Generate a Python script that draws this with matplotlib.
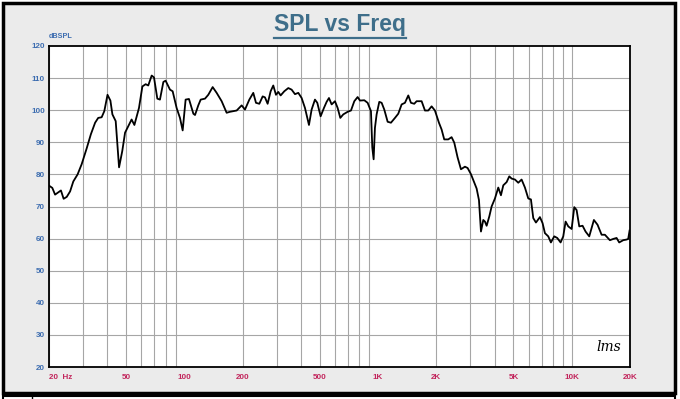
import matplotlib
matplotlib.use("Agg")
import matplotlib.pyplot as plt
from matplotlib import font_manager
from matplotlib.patches import Rectangle
from matplotlib.lines import Line2D
from matplotlib.ticker import FixedLocator, NullFormatter

plt.rcParams['font.family'] = ['Liberation Sans', 'DejaVu Sans']

# frequency response (Hz, dB SPL)
freq = [20, 20.8, 21.5, 22.3, 23.05, 23.8, 24.7, 25.7, 26.7, 28.1, 29.5, 31.3,
        32.9, 34.6, 35.9, 37.4, 38.6, 40.1, 41.5, 42.5, 44.2, 46.0, 47.8, 49.4,
        51.3, 53.4, 55.2, 58.3, 60.7, 63.1, 65.1, 67.8, 69.7, 72.5, 74.8, 77.9,
        80.0, 84.3, 87.0, 91.2, 94.9, 98.0, 101.5, 105.6, 111.3, 113.5, 118.0,
        121.4, 127.8, 132.9, 140.0, 146.8, 155.8, 165.3, 171.9, 186.2, 197.6,
        205.6, 216.5, 226.9, 234.3, 243.8, 253.7, 260.7, 269.1, 278.9, 287.8,
        297.1, 305.5, 314.1, 328.1, 344.1, 358, 372.5, 387.5, 403.2, 419.5,
        439.9, 454, 472.4, 485.7, 505.3, 525.7, 542.7, 558, 576, 599.3, 618.6,
        638.5, 661.7, 696.7, 724.9, 754.2, 784.6, 806.7, 849.3, 883.6, 919.3,
        934, 949, 963.9, 983.4, 1015, 1044, 1077, 1121, 1166, 1223, 1272, 1324,
        1377, 1433, 1479, 1538, 1582, 1679, 1747, 1817, 1891, 1967, 2063, 2129,
        2197, 2304, 2398, 2475, 2575, 2680, 2810, 2900, 3017, 3103, 3229, 3320,
        3359, 3400, 3495, 3565, 3637, 3754, 3859, 4015, 4177, 4312, 4434, 4613,
        4761, 4895, 5093, 5298, 5512, 5735, 5967, 6159, 6332, 6537, 6853, 7074,
        7273, 7567, 7810, 8126, 8421, 8763, 9045, 9300, 9600, 9990, 10310,
        10600, 10940, 11380, 11790, 12320, 13020, 13600, 14270, 14840, 15750,
        16390, 17050, 17590, 18450, 19200, 19580, 19900]
spl = [76.5, 75.8, 73.7, 74.4, 75.0, 72.4, 73.0, 74.7, 77.8, 80.0, 83.2, 88.1,
       92.5, 96.1, 97.6, 97.8, 99.7, 104.8, 103.0, 98.7, 96.6, 82.2, 87.3, 93.0,
       95.0, 97.1, 95.4, 100.7, 107.4, 108.1, 107.7, 110.8, 110.2, 103.6, 103.3,
       108.8, 109.2, 106.4, 105.9, 100.7, 97.6, 93.7, 103.3, 103.5, 98.9, 98.5,
       101.5, 103.3, 103.6, 104.8, 107.2, 105.4, 102.8, 99.2, 99.5, 99.9, 101.5,
       100.2, 103.3, 105.4, 102.3, 102.0, 104.3, 104.0, 102.0, 105.9, 107.7,
       104.8, 105.7, 104.6, 105.9, 106.9, 106.4, 105.0, 105.4, 103.8, 100.7,
       95.4, 100.2, 103.3, 102.3, 98.1, 100.7, 102.6, 103.8, 101.8, 102.8, 100.7,
       97.6, 98.7, 99.5, 99.9, 102.8, 104.1, 103.0, 103.1, 102.3, 99.7,
       88.4, 84.7, 94.5, 98.7, 102.6, 102.3, 100.2, 96.4, 96.1, 97.6, 98.9, 101.8,
       102.3, 104.6, 102.3, 102.0, 102.8, 102.8, 99.9, 99.9, 101.2, 99.9, 96.1, 94.0,
       90.9, 90.9, 91.6, 89.9, 85.3, 81.6, 82.4, 82.0, 80.1, 78.2, 75.6, 72.0,
       67.4, 62.2, 65.8, 65.3, 64.0, 66.9, 70.0, 72.5, 75.9, 73.5, 76.6, 77.6,
       79.4, 78.7, 78.4, 77.4, 78.4, 75.9, 72.5, 72.2, 66.4, 65.0, 66.7, 64.8,
       61.7, 60.7, 58.8, 60.7, 60.2, 58.8, 60.7, 65.3, 63.8, 63.0, 69.8,
       68.9, 63.8, 64.0, 62.2, 60.7, 65.8, 64.3, 61.2, 61.2, 59.5,
       59.9, 60.2, 58.8, 59.5, 59.7, 59.9, 62.5]

xtick_pos = [20, 50, 100, 200, 500, 1000, 2000, 5000, 10000, 20000]
xtick_lab = ['20  Hz', '50', '100', '200', '500', '1K', '2K', '5K', '10K', '20K']
ytick_pos = [20, 30, 40, 50, 60, 70, 80, 90, 100, 110, 120]
grid_x = [m * d for d in (10, 100, 1000) for m in range(2, 10)] + [10000]

# a narrow face looks closer to the original, if it is there
installed = {f.name for f in font_manager.fontManager.ttflist}
if 'Liberation Sans Narrow' in installed:
    narrow, title_size, lab_size, unit_size = 'Liberation Sans Narrow', 19, 6.3, 5.6
else:
    narrow, title_size, lab_size, unit_size = 'Liberation Sans', 16.5, 5.8, 5.2

W, H = 680, 399
fig = plt.figure(figsize=(W / 100, H / 100), dpi=100, facecolor='white')

# outer frame and the strip below it
fig.add_artist(Rectangle((3 / W, 1 - 393 / H), 672 / W, 390 / H,
                         transform=fig.transFigure, facecolor='#ebebeb',
                         edgecolor='black', linewidth=2.5, zorder=0))
fig.add_artist(Rectangle((3 / W, -0.02), 672 / W, 0.02 + (H - 396) / H,
                         transform=fig.transFigure, facecolor='white',
                         edgecolor='black', linewidth=1.5, zorder=0))
fig.add_artist(Line2D([32 / W, 32 / W], [0, (H - 396) / H], color='black',
                      linewidth=1, transform=fig.transFigure))

ax = fig.add_axes([49 / W, 1 - 367 / H, 581 / W, 321 / H])
ax.set_facecolor('white')
ax.set_xscale('log')
ax.set_xlim(20, 20000)
ax.set_ylim(20, 120)

ax.xaxis.set_major_locator(FixedLocator(xtick_pos))
ax.xaxis.set_minor_locator(FixedLocator(grid_x))
ax.xaxis.set_minor_formatter(NullFormatter())
ax.set_xticklabels(xtick_lab)
ax.set_yticks(ytick_pos)
ax.tick_params(which='both', length=0)
ax.tick_params(axis='x', pad=5, labelcolor='#c2255c')
ax.tick_params(axis='y', pad=3, labelcolor='#3d6db0')
for t in ax.get_xticklabels() + ax.get_yticklabels():
    t.set_fontweight('bold')
    t.set_family(narrow)
    t.set_fontsize(lab_size)
ax.get_xticklabels()[0].set_ha('left')

for g in grid_x:
    ax.axvline(g, color='#a6a6a6', linewidth=0.8, zorder=1)
for g in ytick_pos[1:-1]:
    ax.axhline(g, color='#a6a6a6', linewidth=0.8, zorder=1)

for s in ax.spines.values():
    s.set_linewidth(1.3)
    s.set_color('black')
    s.set_zorder(4)

ax.plot(freq, spl, color='black', linewidth=1.3, zorder=3)

ax.text(0.0, 1.02, 'dBSPL', transform=ax.transAxes, ha='left', va='bottom',
        fontsize=unit_size, fontweight='bold', color='#3d6db0', family=narrow)
ax.text(0.985, 0.04, 'lms', transform=ax.transAxes, ha='right', va='bottom',
        fontsize=10, fontstyle='italic', family='DejaVu Serif', color='black')

title = fig.text(0.5, 1 - 25 / H, 'SPL vs Freq', ha='center', va='center',
                 fontsize=title_size, fontweight='bold', color='#3e6e8a',
                 family=narrow)
fig.canvas.draw()
bb = title.get_window_extent()
uy = bb.y0 - 1.5
fig.add_artist(Line2D([bb.x0 / W, bb.x1 / W], [uy / H, uy / H],
                      color='#3e6e8a', linewidth=1.6,
                      transform=fig.transFigure))

fig.savefig('out.png', dpi=100, facecolor=fig.get_facecolor())
